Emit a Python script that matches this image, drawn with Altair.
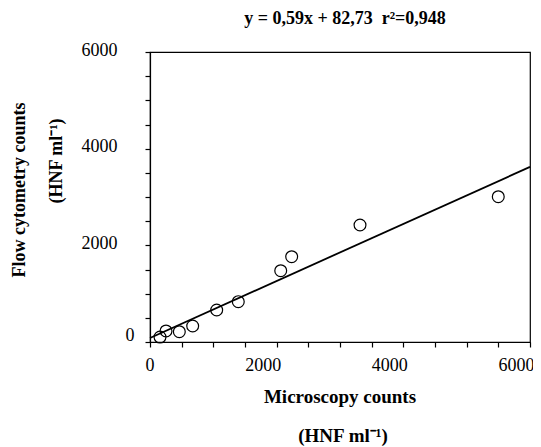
import altair as alt
import pandas as pd

# ---- data ----
microscopy = [158, 253, 463, 674, 1053, 1394, 2064, 2237, 3316, 5499]
flow_cytometry = [103, 228, 213, 331, 662, 834, 1475, 1765, 2421, 3006]
fit_x = [0, 6000]
fit_y = [83, 3623]
tick_values = [0, 500, 1000, 1500, 2000, 2500, 3000, 3500, 4000, 4500, 5000, 5500, 6000]
label_values = [0, 2000, 4000, 6000]
title_text = ["y = 0,59x + 82,73\u00a0\u00a0r²=0,948"]
x_title = ["Microscopy counts", "(HNF ml⁻¹)"]
y_title = ["Flow cytometry counts", "(HNF ml⁻¹)"]

FONT = "Liberation Serif"

pts = pd.DataFrame({"x": microscopy, "y": flow_cytometry})
fit = pd.DataFrame({"x": fit_x, "y": fit_y})

label_expr = "indexof([" + ",".join(str(v) for v in label_values) + "], datum.value) >= 0 ? datum.label : ''"

xscale = alt.Scale(domain=[0, 6000], nice=False, zero=False)
yscale = alt.Scale(domain=[0, 6000], nice=False, zero=False)

x_axis = alt.Axis(values=tick_values, labelExpr=label_expr, format="d", title=None, grid=False,
                  tickSize=5, tickColor="black", tickWidth=1.2, domainColor="black", domainWidth=1.2,
                  labelFont=FONT, labelFontSize=18, labelColor="black", labelAlign="right",
                  labelOffset=4, labelPadding=9, labelFlush=False, labelOverlap=False)
y_axis = alt.Axis(values=tick_values, labelExpr=label_expr, format="d", title=None, grid=False,
                  tickSize=5, tickColor="black", tickWidth=1.2, domainColor="black", domainWidth=1.2,
                  labelFont=FONT, labelFontSize=18, labelColor="black", labelAlign="right",
                  labelPadding={"condition": {"test": "datum.value == 0", "value": 11}, "value": 28},
                  labelOffset={"condition": {"test": "datum.value == 0", "value": -7}, "value": -2},
                  labelFlush=False, labelOverlap=False)

line = alt.Chart(fit).mark_line(color="black", strokeWidth=1.8).encode(
    x=alt.X("x:Q", scale=xscale, axis=x_axis),
    y=alt.Y("y:Q", scale=yscale, axis=y_axis),
)

points = alt.Chart(pts).mark_point(shape="circle", filled=False, size=140, stroke="black",
                                   strokeWidth=1.2, opacity=1).encode(
    x=alt.X("x:Q", scale=xscale, axis=x_axis),
    y=alt.Y("y:Q", scale=yscale, axis=y_axis),
)

def label(txt, x, y, size, angle=0, weight="bold"):
    return alt.Chart(pd.DataFrame({"t": [txt]})).mark_text(
        font=FONT, fontSize=size, fontWeight=weight, color="black",
        align="center", baseline="alphabetic" if angle == 0 else "middle", angle=angle
    ).encode(text="t:N", x=alt.value(x), y=alt.value(y))

title = label(title_text[0], 195, -28, 18)
xt1 = label(x_title[0], 190, 351, 19)
xt2 = label(x_title[1], 193, 390, 19)
yt1 = label(y_title[0], -130, 138, 18, angle=270)
yt2 = label(y_title[1], -93, 109, 18, angle=270)

chart = alt.layer(line, points, title, xt1, xt2, yt1, yt2).properties(
    width=380, height=290,
    padding={"left": 142, "top": 44, "right": 3, "bottom": 105},
    autosize="none",
    background="white",
).configure_view(stroke="black", strokeWidth=1.2)

chart.save("out.html", embed_options={"renderer": "svg", "actions": False})
